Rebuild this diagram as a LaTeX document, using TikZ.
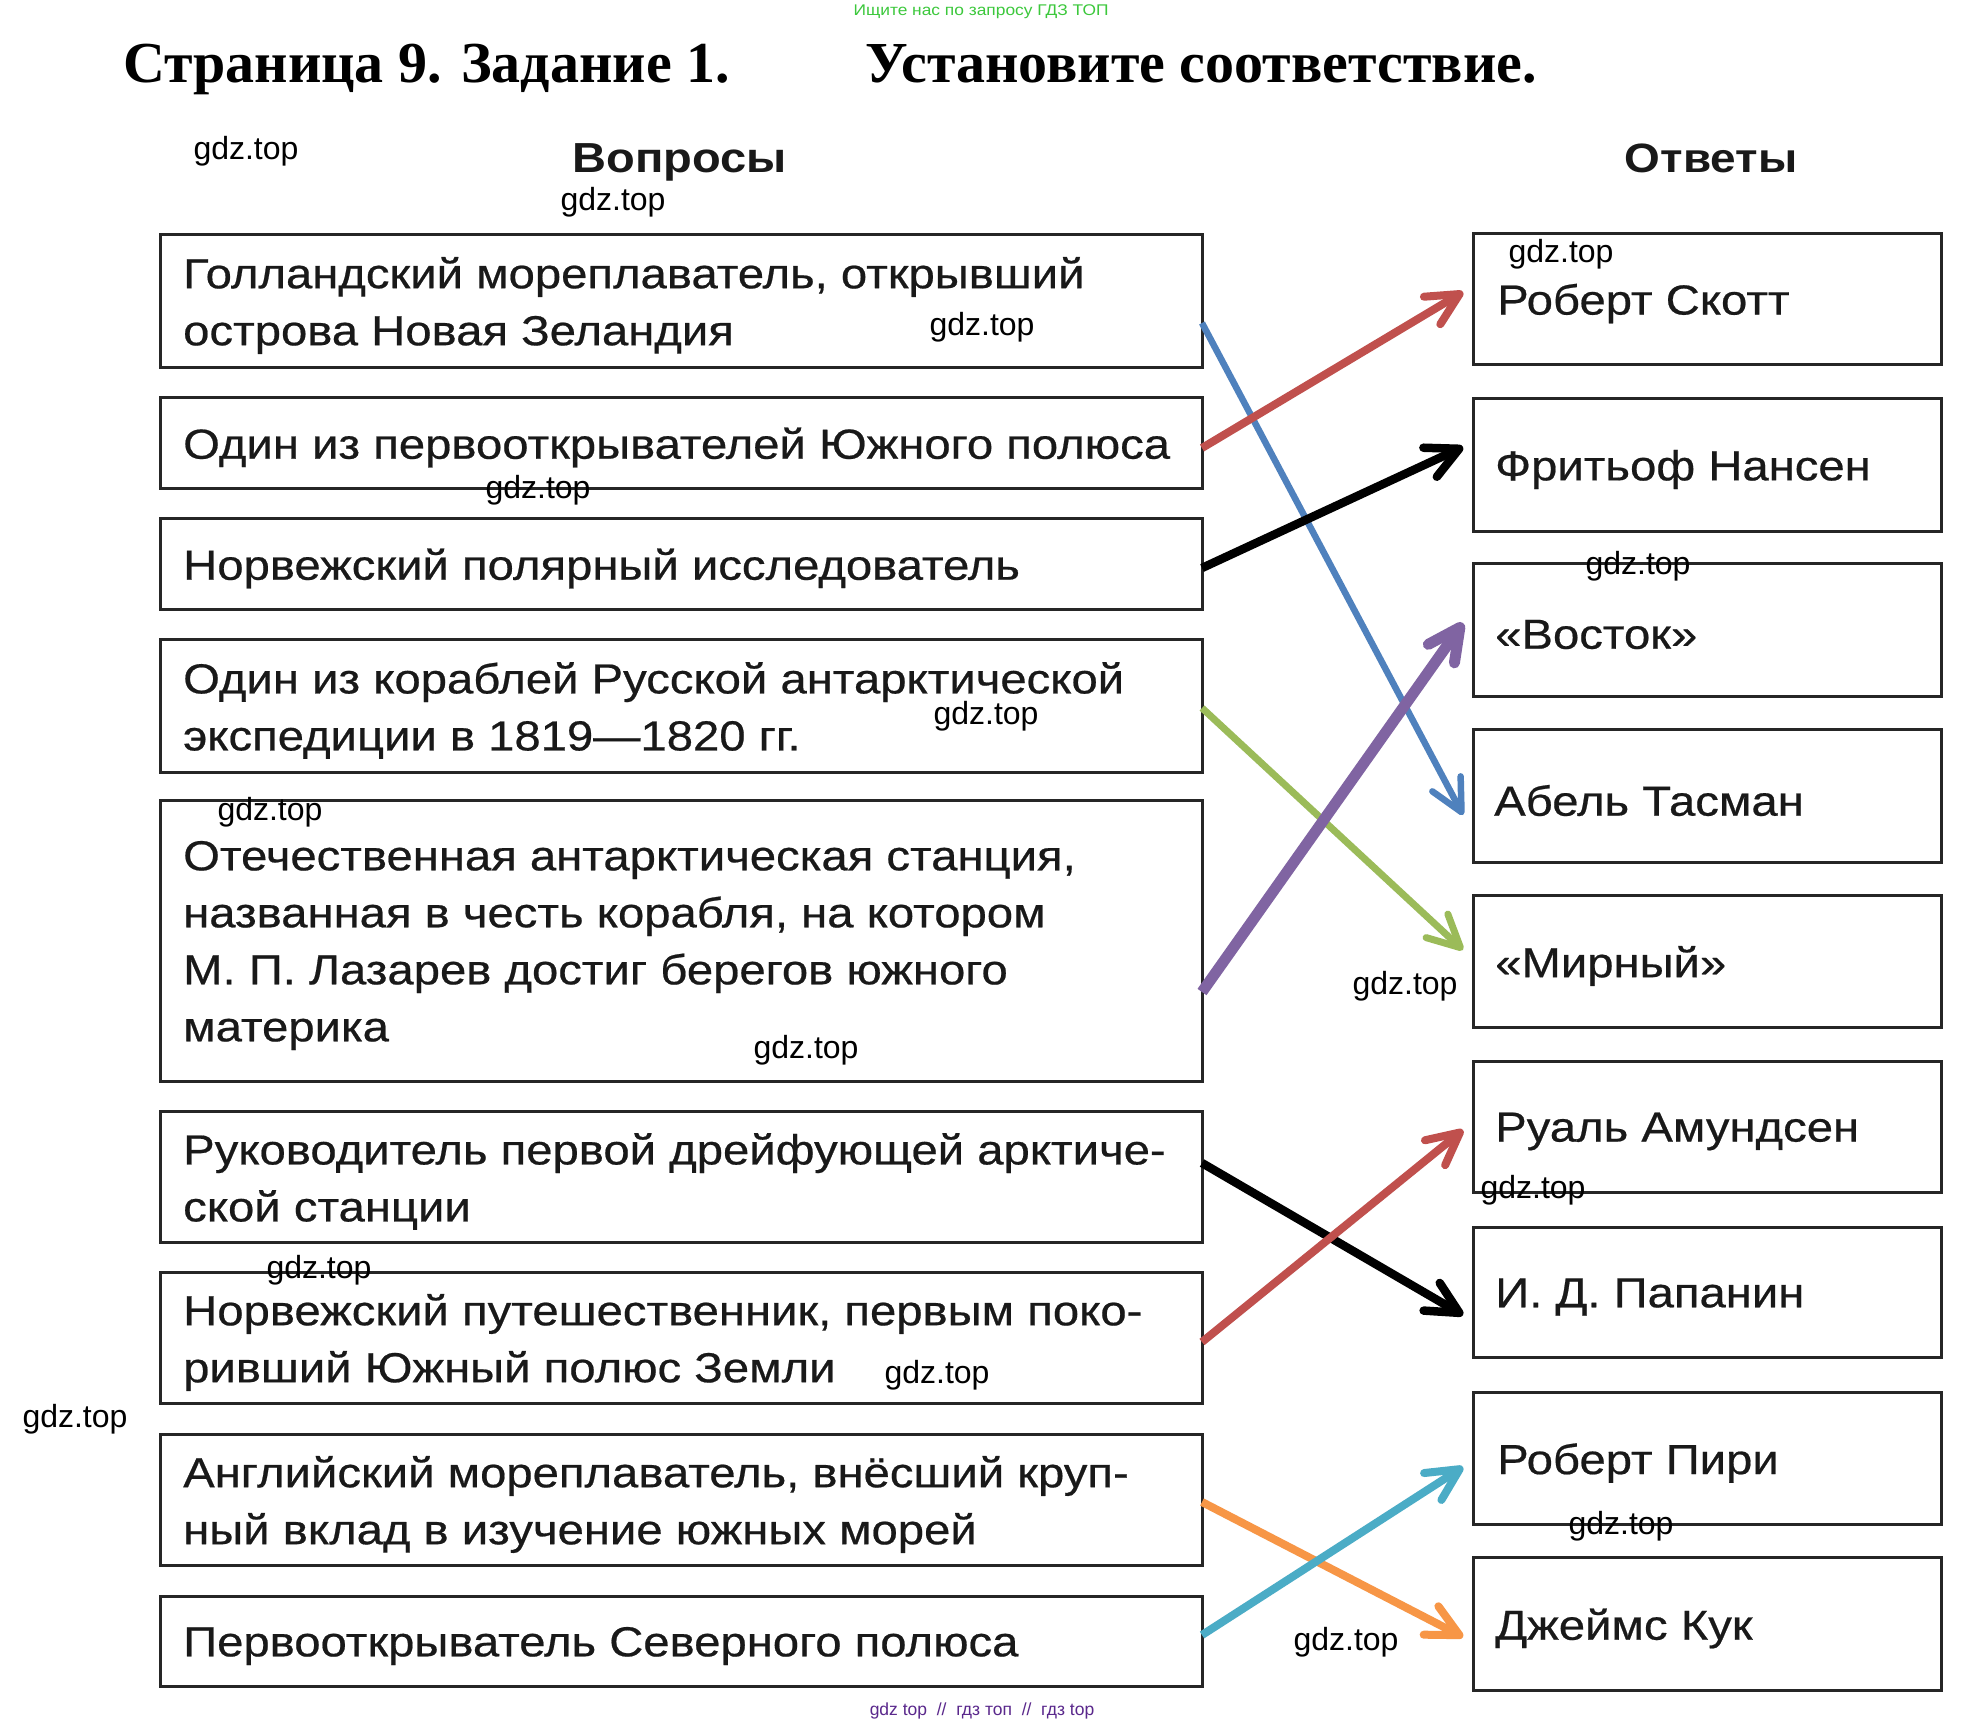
\documentclass[tikz,border=0pt]{standalone}
\usepackage{fontspec}
\setmainfont{Liberation Sans}
\newfontfamily\qf[FakeStretch=1.125,FakeBold=0.5]{Liberation Sans}
\newfontfamily\hf[FakeStretch=1.12]{Liberation Sans}
\newfontfamily\wf{Liberation Sans}
\newfontfamily\tf{Liberation Serif}
\usetikzlibrary{arrows.meta}
\definecolor{cblue}{RGB}{79,129,189}
\definecolor{cred}{RGB}{192,80,77}
\definecolor{cgreen}{RGB}{155,187,89}
\definecolor{cpurple}{RGB}{128,100,162}
\definecolor{corange}{RGB}{247,150,70}
\definecolor{caqua}{RGB}{75,172,198}
\definecolor{topgreen}{RGB}{60,200,60}
\definecolor{botpurple}{RGB}{90,40,140}
\tikzset{
  box/.style={draw=black!85, line width=3pt, outer sep=0pt, inner sep=0pt, rectangle},
  lbox/.style={box, minimum width=1042pt},
  rbox/.style={box, minimum width=468pt},
  qtext/.style={font=\qf\fontsize{42}{57}\selectfont, text=black!90, align=left, anchor=west, inner sep=0pt, yshift=-5pt},
  wm/.style={font=\wf\fontsize{32}{34}\selectfont, inner sep=0pt, text=black},
  arr/.style={line width=8pt, -{Straight Barb[length=32pt,width=32pt,round]}},
}
\begin{document}
\begin{tikzpicture}[x=1pt,y=-1pt]
\path[fill=white] (0,0) rectangle (1965,1726);
\useasboundingbox (0,0) rectangle (1965,1726);

% header texts
\node[font=\hf\fontsize{15.5}{17}\selectfont, text=topgreen, inner sep=0pt] (hdr) at (981,12) {Ищите нас по запросу ГДЗ ТОП};
\node[font=\tf\bfseries\fontsize{58}{60}\selectfont, anchor=base west, inner sep=0pt] (title1) at (123,83) {Страница 9. Задание 1.};
\node[font=\tf\bfseries\fontsize{58}{60}\selectfont, anchor=base west, inner sep=0pt] (title2) at (865,83) {Установите соответствие.};
\node[font=\hf\bfseries\fontsize{42}{45}\selectfont, anchor=base, inner sep=0pt, text=black!90] (hq) at (680,172) {Вопросы};
\node[font=\hf\bfseries\fontsize{41}{45}\selectfont, anchor=base, inner sep=0pt, text=black!90] (ha) at (1711,172) {Ответы};

% left boxes
\node[lbox, minimum height=133pt] (b1) at (681,300.5) {};
\node[lbox, minimum height=91pt] (b2) at (681,442.5) {};
\node[lbox, minimum height=91pt] (b3) at (681,563.5) {};
\node[lbox, minimum height=133pt] (b4) at (681,705.5) {};
\node[lbox, minimum height=281pt] (b5) at (681,940.5) {};
\node[lbox, minimum height=131pt] (b6) at (681,1176.5) {};
\node[lbox, minimum height=131pt] (b7) at (681,1337.5) {};
\node[lbox, minimum height=131pt] (b8) at (681,1499.5) {};
\node[lbox, minimum height=90pt] (b9) at (681,1641) {};

\node[qtext] (q1) at ([xshift=23pt]b1.west) {Голландский мореплаватель, открывший\\острова Новая Зеландия};
\node[qtext] (q2) at ([xshift=23pt]b2.west) {Один из первооткрывателей Южного полюса};
\node[qtext] (q3) at ([xshift=23pt]b3.west) {Норвежский полярный исследователь};
\node[qtext] (q4) at ([xshift=23pt]b4.west) {Один из кораблей Русской антарктической\\экспедиции в 1819—1820 гг.};
\node[qtext] (q5) at ([xshift=23pt]b5.west) {Отечественная антарктическая станция,\\названная в честь корабля, на котором\\М. П. Лазарев достиг берегов южного\\материка};
\node[qtext] (q6) at ([xshift=23pt]b6.west) {Руководитель первой дрейфующей арктиче-\\ской станции};
\node[qtext] (q7) at ([xshift=23pt]b7.west) {Норвежский путешественник, первым поко-\\ривший Южный полюс Земли};
\node[qtext] (q8) at ([xshift=23pt]b8.west) {Английский мореплаватель, внёсший круп-\\ный вклад в изучение южных морей};
\node[qtext] (q9) at ([xshift=23pt]b9.west) {Первооткрыватель Северного полюса};

% right boxes
\node[rbox, minimum height=131pt] (r1) at (1707,298.5) {};
\node[rbox, minimum height=133pt] (r2) at (1707,464.5) {};
\node[rbox, minimum height=133pt] (r3) at (1707,629.5) {};
\node[rbox, minimum height=133pt] (r4) at (1707,795.5) {};
\node[rbox, minimum height=132pt] (r5) at (1707,961) {};
\node[rbox, minimum height=131pt] (r6) at (1707,1126.5) {};
\node[rbox, minimum height=130pt] (r7) at (1707,1292) {};
\node[rbox, minimum height=132pt] (r8) at (1707,1458) {};
\node[rbox, minimum height=133pt] (r9) at (1707,1623.5) {};

\node[qtext] (a1) at ([xshift=24pt]r1.west) {Роберт Скотт};
\node[qtext] (a2) at ([xshift=22pt]r2.west) {Фритьоф Нансен};
\node[qtext] (a3) at ([xshift=22pt]r3.west) {«Восток»};
\node[qtext] (a4) at ([xshift=21pt]r4.west) {Абель Тасман};
\node[qtext] (a5) at ([xshift=22pt]r5.west) {«Мирный»};
\node[qtext] (a6) at ([xshift=22pt]r6.west) {Руаль Амундсен};
\node[qtext] (a7) at ([xshift=22pt]r7.west) {И. Д. Папанин};
\node[qtext] (a8) at ([xshift=24pt]r8.west) {Роберт Пири};
\node[qtext] (a9) at ([xshift=22pt]r9.west) {Джеймс Кук};

% arrows
\draw[arr, cblue, line width=6.5pt] ([yshift=-22.5pt]b1.east) -- ([xshift=-10pt,yshift=-19.5pt]r4.west);
\draw[arr, cred] ([yshift=-5.5pt]b2.east) -- ([xshift=-10pt,yshift=6.5pt]r1.west);
\draw[arr, black, line width=8.5pt] ([yshift=-4.5pt]b3.east) -- ([xshift=-10pt,yshift=17.5pt]r2.west);
\draw[arr, cgreen, line width=7pt] ([yshift=-2.5pt]b4.east) -- ([xshift=-10pt,yshift=11pt]r5.west);
\draw[arr, cpurple, line width=11pt] ([yshift=-51.5pt]b5.east) -- ([xshift=-10pt,yshift=6.5pt]r3.west);
\draw[arr, black, line width=8.5pt] ([yshift=13.5pt]b6.east) -- ([xshift=-10pt,yshift=-23pt]r7.west);
\draw[arr, cred] ([yshift=-4.5pt]b7.east) -- ([xshift=-10pt,yshift=-3.5pt]r6.west);
\draw[arr, corange] ([yshift=-2.5pt]b8.east) -- ([xshift=-10pt,yshift=-13.5pt]r9.west);
\draw[arr, caqua] ([yshift=6pt]b9.east) -- ([xshift=-10pt,yshift=-9pt]r8.west);

% watermarks
\node[wm] (w1) at (246,151) {gdz.top};
\node[wm] (w2) at (613,202) {gdz.top};
\node[wm] (w3) at (982,327) {gdz.top};
\node[wm] (w4) at (538,490) {gdz.top};
\node[wm] (w5) at (1561,254) {gdz.top};
\node[wm] (w6) at (1638,566) {gdz.top};
\node[wm] (w7) at (986,716) {gdz.top};
\node[wm] (w8) at (270,812) {gdz.top};
\node[wm] (w9) at (1405,986) {gdz.top};
\node[wm] (w10) at (806,1050) {gdz.top};
\node[wm] (w11) at (1533,1190) {gdz.top};
\node[wm] (w12) at (319,1270) {gdz.top};
\node[wm] (w13) at (937,1375) {gdz.top};
\node[wm] (w14) at (75,1419) {gdz.top};
\node[wm] (w15) at (1621,1526) {gdz.top};
\node[wm] (w16) at (1346,1642) {gdz.top};

\node[font=\wf\fontsize{17.5}{19}\selectfont, text=botpurple, inner sep=0pt] (foot) at (982,1711) {gdz top \ // \ гдз топ \ // \ гдз top};
\end{tikzpicture}
\end{document}
